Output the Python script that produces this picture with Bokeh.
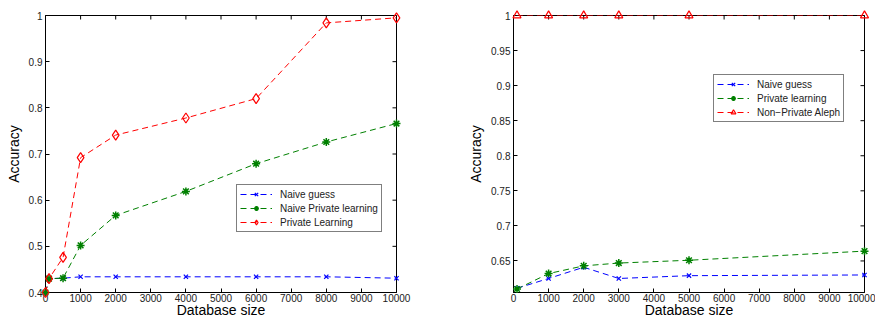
import math
from bokeh.plotting import figure
from bokeh.layouts import row
from bokeh.models import FixedTicker, CustomJSTickFormatter
from bokeh.embed import file_html
from bokeh.resources import INLINE

# ---- Left panel data ----
left_x = [0, 100, 500, 1000, 2000, 4000, 6000, 8000, 10000]
left_naive_guess = [0.400, 0.430, 0.431, 0.434, 0.434, 0.434, 0.434, 0.434, 0.431]
left_naive_private = [0.400, 0.430, 0.431, 0.502, 0.567, 0.619, 0.679, 0.726, 0.766]
left_private = [0.400, 0.430, 0.476, 0.692, 0.741, 0.778, 0.820, 0.984, 0.995]

# ---- Right panel data ----
right_x = [100, 1000, 2000, 3000, 5000, 10000]
right_naive_guess = [0.611, 0.625, 0.641, 0.625, 0.629, 0.630]
right_private = [0.610, 0.632, 0.643, 0.647, 0.651, 0.664]
right_nonprivate = [1.0, 1.0, 1.0, 1.0, 1.0, 1.0]

x_ticks = [0, 1000, 2000, 3000, 4000, 5000, 6000, 7000, 8000, 9000, 10000]
left_y_ticks = [0.4, 0.5, 0.6, 0.7, 0.8, 0.9, 1.0]
right_y_ticks = [0.65, 0.7, 0.75, 0.8, 0.85, 0.9, 0.95, 1.0]

FONT = "Liberation Sans"
BLUE, GREEN, RED = "#0000ff", "#008000", "#ff0000"
DASH = "6 4"

fmt = CustomJSTickFormatter(code="""
var s = tick.toFixed(2);
s = s.replace(/0+$/, '').replace(/\\.$/, '');
return s;
""")


def style_axis(ax, ticks):
    ax.ticker = FixedTicker(ticks=ticks)
    ax.major_tick_in = 4
    ax.major_tick_out = 0
    ax.minor_tick_line_color = None
    ax.axis_line_color = "black"
    ax.major_tick_line_color = "black"
    ax.major_label_text_font = FONT
    ax.major_label_text_font_size = "10px"
    ax.major_label_text_color = "#222222"
    ax.major_label_standoff = 3


def make_fig(y_start, y_end, y_ticks, width, border_left, border_right):
    x_start, x_end = 0, 10000
    p = figure(width=width, height=320, x_range=(x_start, x_end), y_range=(y_start, y_end),
               output_backend="svg", toolbar_location=None,
               min_border_left=border_left, min_border_right=border_right,
               min_border_top=15, min_border_bottom=0)
    p.xgrid.visible = False
    p.ygrid.visible = False
    p.outline_line_color = "black"
    p.outline_line_width = 1
    style_axis(p.xaxis[0], x_ticks)
    style_axis(p.yaxis[0], y_ticks)
    p.xaxis[0].major_label_standoff = 1
    p.yaxis[0].formatter = fmt
    p.xaxis[0].axis_label = "Database size"
    p.yaxis[0].axis_label = "Accuracy"
    for ax in (p.xaxis[0], p.yaxis[0]):
        ax.axis_label_text_font = FONT
        ax.axis_label_text_font_style = "normal"
        ax.axis_label_text_color = "black"
        ax.axis_label_text_font_size = "14px"
    p.xaxis[0].axis_label_standoff = -3
    p.yaxis[0].axis_label_standoff = 4
    # mirrored inward ticks on the top and right edges (half of each dash is clipped)
    p.scatter(x_ticks, [y_end] * len(x_ticks), marker="dash", size=8, angle=math.pi / 2,
              line_color="black", line_width=1)
    p.scatter([x_end] * len(y_ticks), y_ticks, marker="dash", size=8, angle=0,
              line_color="black", line_width=1)
    return p


def style_legend(p, loc):
    lg = p.legend[0]
    lg.location = loc
    lg.border_line_color = "black"
    lg.border_line_width = 1
    lg.background_fill_color = "white"
    lg.background_fill_alpha = 1.0
    lg.label_text_font = FONT
    lg.label_text_font_size = "10px"
    lg.label_text_color = "#222222"
    lg.glyph_width = 32
    lg.glyph_height = 12
    lg.label_height = 12
    lg.label_standoff = 8
    lg.spacing = 2
    lg.padding = 3
    lg.margin = 0


# ---- Left figure ----
p1 = make_fig(0.4, 1.0, left_y_ticks, 440, 45, 44)
series_left = [
    (left_naive_guess, BLUE, "x", 6, 1.2, "Naive guess"),
    (left_naive_private, GREEN, "asterisk", 8, 1.5, "Naive Private learning"),
    (left_private, RED, "diamond", 10, 1.2, "Private Learning"),
]
for ys, col, mk, sz, lw, lab in series_left:
    p1.line(left_x, ys, line_color=col, line_dash=DASH, line_width=1, legend_label=lab)
    p1.scatter(left_x, ys, marker=mk, size=sz, line_color=col, fill_color=None,
               line_width=lw, legend_label=lab, level="overlay")
style_legend(p1, (191, 60))

# ---- Right figure ----
p2 = make_fig(0.605, 1.0, right_y_ticks, 435, 73, 11)
series_right = [
    (right_naive_guess, BLUE, "x", 6, 1.2, "Naive guess"),
    (right_private, GREEN, "asterisk", 8, 1.5, "Private learning"),
    (right_nonprivate, RED, "triangle", 8, 1.2, "Non\u2212Private Aleph"),
]
for ys, col, mk, sz, lw, lab in series_right:
    p2.line(right_x, ys, line_color=col, line_dash=DASH, line_width=1, legend_label=lab)
    p2.scatter(right_x, ys, marker=mk, size=sz, line_color=col, fill_color=None,
               line_width=lw, legend_label=lab, level="overlay")
style_legend(p2, (200, 170))

layout = row(p1, p2, spacing=0)
open("out.html", "w").write(file_html(layout, INLINE))
